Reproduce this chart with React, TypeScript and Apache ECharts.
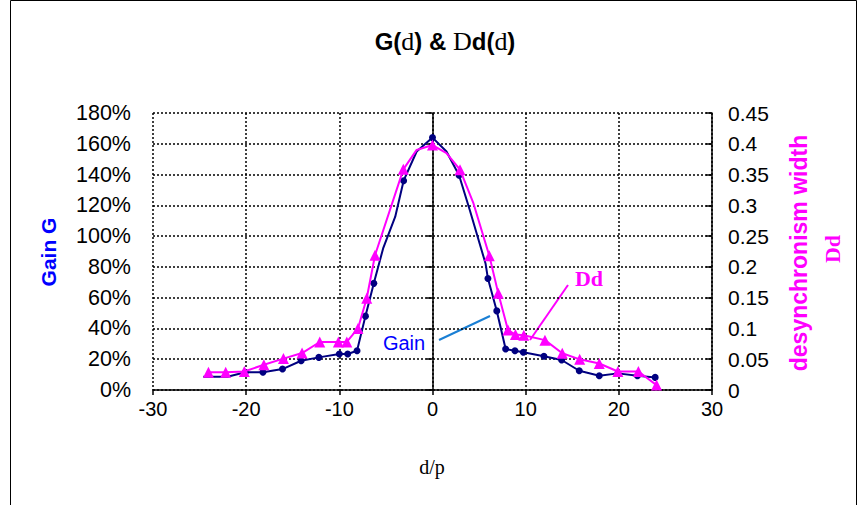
import React, { useEffect, useRef } from "react";
import * as echarts from "echarts";

// Gain G (%) vs d/p — navy circles (some points carry no marker)
const gainX = [-24.6, -22, -20.1, -18.2, -16.1, -14.1, -12.2, -10.0, -9.1, -8.1, -7.2, -6.3, -5.3, -4.0, -3.1, -1.7, 0, 1.5, 2.85, 4.0, 5.7, 5.95, 6.9, 7.85, 8.85, 9.75, 11.96, 13.86, 15.75, 17.9, 19.9, 22.0, 23.9];
const gainVals = [8.6, 8.6, 11.5, 11.5, 13.6, 19, 21.2, 23.4, 23.4, 25.5, 48, 69.3, 92, 112.6, 136, 155, 164, 155, 139.5, 117, 82, 72.4, 51.4, 26.6, 25.5, 24.5, 21.9, 19.5, 12.5, 9.3, 10.8, 9.3, 8.2];
const gainMarked = [0, 0, 1, 1, 1, 1, 1, 1, 1, 1, 1, 1, 0, 0, 1, 0, 1, 0, 1, 0, 0, 1, 1, 1, 1, 1, 1, 1, 1, 1, 1, 1, 1];

// desynchronism width Dd vs d/p — magenta triangles
const ddX = [-24.05, -22.2, -20.2, -18.1, -16.0, -14.0, -12.1, -10.1, -9.2, -8.0, -7.06, -6.17, -3.13, -1.7, 0, 1.5, 2.95, 4.4, 6.1, 7.06, 8.1, 8.9, 9.8, 12.07, 13.93, 15.8, 17.9, 19.9, 22.1, 24.05];
const ddVals = [0.029, 0.029, 0.030, 0.041, 0.051, 0.060, 0.078, 0.078, 0.078, 0.100, 0.149, 0.219, 0.3585, 0.39, 0.398, 0.385, 0.358, 0.303, 0.218, 0.157, 0.0975, 0.09, 0.089, 0.081, 0.0596, 0.0498, 0.043, 0.030, 0.030, 0.008];
const ddMarked = [1, 1, 1, 1, 1, 1, 1, 1, 1, 1, 1, 1, 1, 0, 1, 0, 1, 0, 1, 1, 1, 1, 1, 1, 1, 1, 1, 1, 1, 1];

const SANS = "Liberation Sans, Arial, sans-serif";
const SERIF = "Liberation Serif, Times New Roman, serif";
const NAVY = "#000080";
const MAG = "#FF00FF";

export default function App() {
  const ref = useRef<HTMLDivElement>(null);
  useEffect(() => {
    if (!ref.current) return;
    const chart = echarts.init(ref.current, null, { renderer: "svg" });
    const gainData = gainX.map((x, i) => ({
      value: [x, gainVals[i]],
      symbol: gainMarked[i] ? "circle" : "none",
    }));
    const ddData = ddX.map((x, i) => ({
      value: [x, ddVals[i]],
      symbol: ddMarked[i] ? "triangle" : "none",
    }));
    const gridLine = { show: true, lineStyle: { color: "#000", type: [2, 2] as any, width: 1.5 } };
    chart.setOption({
      animation: false,
      backgroundColor: "#fff",
      grid: { left: 153, right: 147, top: 113, bottom: 115 },
      xAxis: {
        type: "value",
        min: -30,
        max: 30,
        interval: 10,
        axisLine: { show: true, lineStyle: { color: "#000", width: 1.5 } },
        axisTick: { show: true, length: 5, lineStyle: { color: "#000", width: 1.5 } },
        axisLabel: { color: "#000", fontFamily: SANS, fontSize: 20, margin: 9 },
        splitLine: gridLine,
      },
      yAxis: [
        {
          type: "value",
          min: 0,
          max: 180,
          interval: 20,
          axisLine: { show: true, lineStyle: { color: "#000", width: 1.5 } },
          axisTick: { show: true, length: 6, lineStyle: { color: "#000", width: 1.5 } },
          axisLabel: { color: "#000", fontFamily: SANS, fontSize: 21.5, margin: 22, formatter: "{value}%" },
          splitLine: gridLine,
        },
        {
          type: "value",
          min: 0,
          max: 0.45,
          interval: 0.05,
          position: "right",
          axisLine: { show: true, lineStyle: { color: "#000", width: 1.5 } },
          axisTick: { show: true, inside: true, length: 6, lineStyle: { color: "#000", width: 1.5 } },
          axisLabel: { color: "#000", fontFamily: SANS, fontSize: 21, margin: 16 },
          splitLine: { show: false },
        },
      ],
      series: [
        {
          name: "Gain",
          type: "line",
          yAxisIndex: 0,
          data: gainData,
          symbolSize: 7,
          lineStyle: { color: NAVY, width: 2 },
          itemStyle: { color: NAVY },
          z: 3,
        },
        {
          name: "Dd",
          type: "line",
          yAxisIndex: 1,
          data: ddData,
          symbolSize: 11,
          lineStyle: { color: MAG, width: 2 },
          itemStyle: { color: MAG },
          z: 4,
        },
      ],
      graphic: [
        {
          type: "rect",
          shape: { x: 10.5, y: 0.5, width: 846, height: 520 },
          style: { fill: "none", stroke: "#000", lineWidth: 1 },
          silent: true,
        },
        {
          type: "text",
          x: 445,
          y: 41,
          style: {
            text: "{b|G(}{s|d}{b|) & }{s|D}{b|d(}{s|d}{b|)}",
            font: "bold 24px " + SANS,
            fill: "#000",
            align: "center",
            verticalAlign: "middle",
            rich: {
              b: { font: "bold 24px " + SANS, fill: "#000" },
              s: { font: "26px " + SERIF, fill: "#000" },
            },
          },
        },
        {
          type: "text",
          x: 48,
          y: 252,
          rotation: Math.PI / 2,
          style: {
            text: "Gain G",
            fill: "#0000FF",
            font: "bold 21px " + SANS,
            align: "center",
            verticalAlign: "middle",
          },
        },
        {
          type: "text",
          x: 799,
          y: 253,
          rotation: Math.PI / 2,
          style: {
            text: "desynchronism width",
            fill: MAG,
            font: "bold 23px " + SANS,
            align: "center",
            verticalAlign: "middle",
          },
        },
        {
          type: "text",
          x: 832,
          y: 249,
          rotation: Math.PI / 2,
          style: {
            text: "Dd",
            fill: MAG,
            font: "bold 22px " + SERIF,
            align: "center",
            verticalAlign: "middle",
          },
        },
        {
          type: "text",
          x: 432,
          y: 467,
          style: {
            text: "d/p",
            fill: "#000",
            font: "20px " + SERIF,
            align: "center",
            verticalAlign: "middle",
          },
        },
        {
          type: "text",
          x: 404,
          y: 343,
          style: {
            text: "Gain",
            fill: "#0000FF",
            font: "20px " + SANS,
            align: "center",
            verticalAlign: "middle",
          },
        },
        {
          type: "line",
          shape: { x1: 439, y1: 340, x2: 490, y2: 316 },
          style: { stroke: "#1a7fd4", lineWidth: 2 },
        },
        {
          type: "text",
          x: 589,
          y: 278,
          style: {
            text: "Dd",
            fill: MAG,
            font: "bold 22px " + SERIF,
            align: "center",
            verticalAlign: "middle",
          },
        },
        {
          type: "line",
          shape: { x1: 568, y1: 285, x2: 530, y2: 340 },
          style: { stroke: MAG, lineWidth: 2 },
        },
      ],
    });
    return () => chart.dispose();
  }, []);
  return <div ref={ref} style={{ position: "absolute", left: 0, top: 0, width: 859, height: 505 }} />;
}
